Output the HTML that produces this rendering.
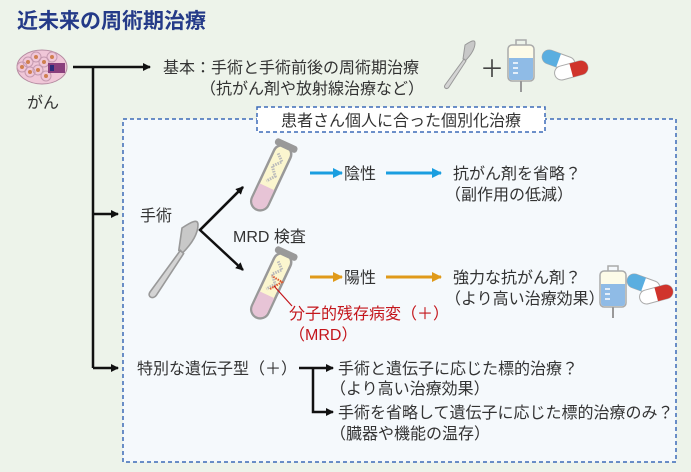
<!DOCTYPE html>
<html><head><meta charset="utf-8"><style>
body{margin:0;width:691px;height:472px;background:#edf3ea;overflow:hidden}
svg{display:block;font-family:"Liberation Sans","Noto Sans CJK JP",sans-serif}
</style></head><body>
<svg width="691" height="472" viewBox="0 0 691 472" xmlns="http://www.w3.org/2000/svg">
<defs>
<marker id="ak" markerWidth="8" markerHeight="8" refX="7" refY="4" orient="auto" markerUnits="userSpaceOnUse"><path d="M0,0 L8,4 L0,8z" fill="#111"/></marker>
<marker id="ab" markerWidth="10" markerHeight="10" refX="9" refY="5" orient="auto" markerUnits="userSpaceOnUse"><path d="M0,0 L10,5 L0,10z" fill="#1a9ee0"/></marker>
<marker id="ao" markerWidth="10" markerHeight="10" refX="9" refY="5" orient="auto" markerUnits="userSpaceOnUse"><path d="M0,0 L10,5 L0,10z" fill="#e09a1a"/></marker>
<g id="scalpel"><path d="M0,0 C6,-4 10,-6 10,-2 C10,4 6,10 0,16 L-2,14z" fill="#c8c8c8" stroke="#999" stroke-width="1"/><path d="M-1,14 L1,16 L-16,42 C-18,45 -22,43 -20,40z" fill="#d4d4d4" stroke="#999" stroke-width="1"/></g>
<g id="iv"><rect x="8" y="0" width="10" height="6" fill="none" stroke="#aaa" stroke-width="1.5"/><rect x="0" y="5" width="26" height="36" rx="4" fill="#fdfbe8" stroke="#aaa" stroke-width="1.5"/><path d="M1,18 H25 V37 Q25,40 22,40 H4 Q1,40 1,37z" fill="#8fbbe6"/><path d="M5,23h5M5,28h5M5,33h5" stroke="#fff" stroke-width="1.5"/><path d="M13,41 V52" stroke="#999" stroke-width="2"/></g>
<g id="pills"><g transform="rotate(20)"><rect x="0" y="0" width="34" height="14" rx="7" fill="#fff" stroke="#aaa"/><path d="M7,0 H17 V14 H7 A7,7 0 0 1 7,0z" fill="#5aaee0"/></g><g transform="translate(8,20) rotate(-15)"><rect x="0" y="0" width="34" height="14" rx="7" fill="#fff" stroke="#aaa"/><path d="M17,0 H27 A7,7 0 0 1 27,14 H17z" fill="#d0342c"/></g></g>
<g id="tube"><g transform="rotate(25)"><rect x="-9" y="0" width="18" height="70" rx="9" fill="#fbf6cf" stroke="#999" stroke-width="2.5"/><path d="M-8,45 H8 V61 A8,8 0 0 1 -8,61z" fill="#e7c4d6"/><rect x="-12" y="-4" width="24" height="7" rx="3" fill="#999"/><path d="M-4,10 L3,16 L-4,24 L3,32 L-3,40" fill="none" stroke="#bbb" stroke-width="3" stroke-dasharray="1.5 1"/></g></g>
</defs>
<text x="17" y="28" font-size="21" font-weight="bold" fill="#243a88">近未来の周術期治療</text>
<!-- cancer -->
<ellipse cx="42" cy="67" rx="25" ry="17" fill="#f0c7d8" stroke="#b48aa0"/>
<g fill="none" stroke="#c59ab0" stroke-width="1"><circle cx="28" cy="62" r="5"/><circle cx="36" cy="57" r="5"/><circle cx="44" cy="62" r="5"/><circle cx="30" cy="72" r="5"/><circle cx="38" cy="70" r="5"/><circle cx="46" cy="76" r="5"/><circle cx="52" cy="57" r="5"/><circle cx="22" cy="67" r="5"/></g>
<g fill="#d08050"><circle cx="28" cy="62" r="2"/><circle cx="36" cy="57" r="2"/><circle cx="44" cy="62" r="2"/><circle cx="30" cy="72" r="2"/><circle cx="38" cy="70" r="2"/><circle cx="46" cy="76" r="2"/><circle cx="52" cy="57" r="2"/><circle cx="22" cy="67" r="2"/></g>
<rect x="48" y="63" width="17" height="10" fill="#8a3f7d"/><rect x="50" y="65" width="4" height="6" fill="#2b2b7a"/>
<text x="27" y="108" font-size="16" fill="#333">がん</text>
<path d="M73,67 H150" stroke="#111" stroke-width="2.5" marker-end="url(#ak)"/>
<path d="M93,67 V368" stroke="#111" stroke-width="2.5" fill="none"/>
<path d="M93,214 H118" stroke="#111" stroke-width="2.5" marker-end="url(#ak)"/>
<path d="M93,368 H118" stroke="#111" stroke-width="2.5" marker-end="url(#ak)"/>
<g font-size="16" fill="#333">
<text x="163" y="73">基本：手術と手術前後の周術期治療</text>
<text x="200" y="94">（抗がん剤や放射線治療など）</text>
</g>
<use href="#scalpel" x="465" y="45"/>
<text x="480" y="77" font-size="24" fill="#444">＋</text>
<use href="#iv" x="508" y="40"/>
<use href="#pills" x="545" y="48"/>
<!-- box -->
<rect x="123" y="119" width="553" height="343" fill="#f5f9fc" stroke="#3d6bb8" stroke-width="1.5" stroke-dasharray="4 3"/>
<rect x="257" y="107" width="288" height="25" fill="#fff" stroke="#3d6bb8" stroke-width="1.5" stroke-dasharray="4 3"/>
<text x="401" y="126" font-size="16" fill="#333" text-anchor="middle">患者さん個人に合った個別化治療</text>
<text x="140" y="221" font-size="16" fill="#333">手術</text>
<g transform="translate(182,228) scale(1.6)"><use href="#scalpel"/></g>
<path d="M243,187 L200,230 L243,270" stroke="#111" stroke-width="2.5" fill="none" marker-end="url(#ak)"/>
<path d="M200,230 L243,187" stroke="#111" stroke-width="2.5" marker-end="url(#ak)"/>
<use href="#tube" x="286" y="146"/>
<use href="#tube" x="286" y="254"/>
<path d="M270,289 L282,282 L272,276" fill="none" stroke="#e05a30" stroke-width="2" stroke-dasharray="1.5 1"/>
<path d="M274,286 L292,306" stroke="#c4161c" stroke-width="1.2"/>
<text x="233" y="242" font-size="16" fill="#333">MRD 検査</text>
<path d="M310,173 H342" stroke="#1a9ee0" stroke-width="3" marker-end="url(#ab)"/>
<path d="M386,173 H441" stroke="#1a9ee0" stroke-width="3" marker-end="url(#ab)"/>
<path d="M310,277 H342" stroke="#e09a1a" stroke-width="3" marker-end="url(#ao)"/>
<path d="M386,277 H441" stroke="#e09a1a" stroke-width="3" marker-end="url(#ao)"/>
<g font-size="16" fill="#333">
<text x="344" y="179">陰性</text>
<text x="453" y="179">抗がん剤を省略？</text>
<text x="445" y="200">（副作用の低減）</text>
<text x="344" y="283">陽性</text>
<text x="453" y="283">強力な抗がん剤？</text>
<text x="445" y="304">（より高い治療効果）</text>
<text x="137" y="374">特別な遺伝子型（＋）</text>
<text x="338" y="374">手術と遺伝子に応じた標的治療？</text>
<text x="330" y="394">（より高い治療効果）</text>
<text x="338" y="418">手術を省略して遺伝子に応じた標的治療のみ？</text>
<text x="330" y="439">（臓器や機能の温存）</text>
</g>
<g font-size="16" fill="#c4161c"><text x="289" y="319">分子的残存病変（＋）</text><text x="289" y="340">（MRD）</text></g>
<use href="#iv" x="600" y="266"/>
<use href="#pills" x="630" y="272"/>
<path d="M299,368 H333" stroke="#111" stroke-width="2.5" marker-end="url(#ak)"/>
<path d="M313,368 V412 H333" stroke="#111" stroke-width="2.5" fill="none" marker-end="url(#ak)"/>
</svg>
</body></html>
